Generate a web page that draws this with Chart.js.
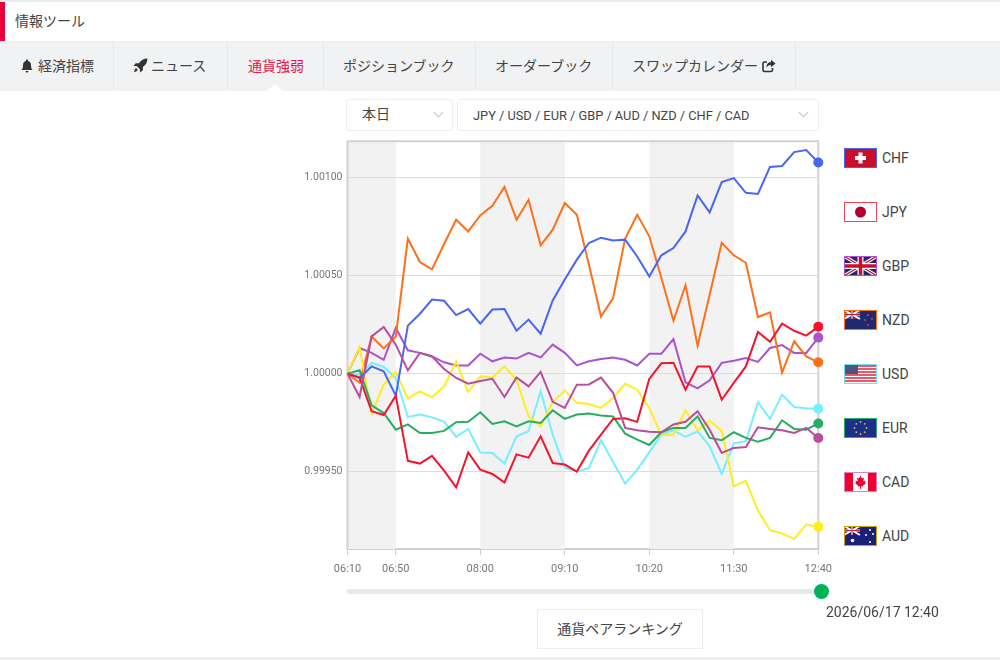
<!DOCTYPE html>
<html lang="ja">
<head>
<meta charset="utf-8">
<title>通貨強弱</title>
<script src="https://cdn.jsdelivr.net/npm/chart.js@4/dist/chart.umd.min.js"></script>
<style>
html, body { margin: 0; padding: 0; background: #fff; }
body { width: 1000px; height: 660px; overflow: hidden; position: relative;
  font-family: Roboto, "Noto Sans CJK JP", sans-serif; color: #444; font-size: 14px; }
.abs { position: absolute; white-space: nowrap; }
#topline { left: 0; top: 0; width: 1000px; height: 2px; background: #e9edf0; }
#redbar { left: 0; top: 2px; width: 5px; height: 39px; background: #e8003a; }
#title { left: 15px; top: 12px; line-height: 18px; }
#nav { left: 0; top: 41px; width: 1000px; height: 50px; background: #f1f2f3; border-top: 1px solid #ececec; box-sizing: border-box; }
.sep { top: 41px; width: 1px; height: 49px; background: #e7e8e9; }
.tab { top: 57px; line-height: 18px; }
.tab.on { color: #e8174b; }
#notch { left: 267px; top: 84px; width: 0; height: 0; border-left: 8px solid transparent; border-right: 8px solid transparent; border-bottom: 7px solid #fff; }
.sel { top: 99px; height: 32px; box-sizing: border-box; border: 1px solid #eee; border-radius: 3px; background: #fff; line-height: 30px; }
.chev { width: 6px; height: 6px; border-right: 1px solid #c4c4c4; border-bottom: 1px solid #c4c4c4; transform: rotate(45deg); top: 109px; }
#chart { position: absolute; left: 290px; top: 130px; }
.flag { left: 844px; width: 33px; height: 20px; display: block; }
.cur { left: 882px; line-height: 18px; }
#track { left: 347px; top: 589px; width: 474px; height: 5px; background: #e4ebf0; border-radius: 2px; }
#knob { left: 814px; top: 584px; width: 15px; height: 15px; border-radius: 50%; background: #00b15a; }
#stamp { left: 826px; top: 603px; line-height: 18px; }
#rank { left: 537px; top: 609px; width: 166px; height: 40px; box-sizing: border-box; border: 1px solid #eee; text-align: center; line-height: 38px; }
#foot { left: 0; top: 657px; width: 1000px; height: 3px; background: #f0f0f0; }
</style>
</head>
<body>
<div class="abs" id="topline"></div>
<div class="abs" id="redbar"></div>
<div class="abs" id="title">情報ツール</div>
<div class="abs" id="nav"></div>
<div class="abs sep" style="left:113px"></div>
<div class="abs sep" style="left:227px"></div>
<div class="abs sep" style="left:323px"></div>
<div class="abs sep" style="left:475px"></div>
<div class="abs sep" style="left:612px"></div>
<div class="abs sep" style="left:795px"></div>
<svg class="abs" style="left:20px;top:59px" width="14" height="14" viewBox="0 0 14 14"><path fill="#333" d="M7 0.5c.6 0 1 .4 1 1v.4c2 .4 3 2 3 4 0 3 .6 3.900 1.600 5H1.400C2.400 9.800 3 8.900 3 5.900c0-2 1-3.600 3-4v-.4c0-.6.4-1 1-1zM5.500 12h3c0 .9-.7 1.500-1.500 1.500S5.500 12.900 5.500 12z"/></svg>
<div class="abs tab" style="left:38px">経済指標</div>
<svg class="abs" style="left:133px;top:58px" width="15" height="15" viewBox="0 0 14 14"><path fill="#333" d="M13.500.5C10 .6 7.500 2 5.500 4.800H2.500L.5 7.500h3L6.500 10.500v3l2.700-2V8.500C12 6.500 13.400 4 13.500.5zM3 9.500C1.800 10 1.200 11.300 1 13c1.700-.2 3-.8 3.500-2z"/></svg>
<div class="abs tab" style="left:151px">ニュース</div>
<div class="abs tab on" style="left:248px">通貨強弱</div>
<div class="abs tab" style="left:343px">ポジションブック</div>
<div class="abs tab" style="left:495px">オーダーブック</div>
<div class="abs tab" style="left:632px">スワップカレンダー</div>
<svg class="abs" style="left:762px;top:59px" width="14" height="14" viewBox="0 0 14 14"><path fill="none" stroke="#333" stroke-width="1.600" d="M5 3H2.500C1.600 3 1 3.600 1 4.500v6.500c0 .9.6 1.500 1.500 1.500H9c.9 0 1.500-.6 1.500-1.500V9"/><path fill="#333" d="M9 .8l4.500 3.700L9 8.200V6C6.500 6 5.200 7 4.500 9 4.300 5.500 6 3.200 9 3z"/></svg>
<div class="abs" id="notch"></div>

<div class="abs sel" style="left:346px;width:107px;padding-left:15px;line-height:28px">本日</div>
<div class="abs chev" style="left:435px"></div>
<div class="abs sel" style="left:457px;width:362px;padding-left:15px;font-size:12.8px;line-height:31px">JPY / USD / EUR / GBP / AUD / NZD / CHF / CAD</div>
<div class="abs chev" style="left:800px"></div>

<canvas id="chart" width="550" height="460"></canvas>

<svg class="abs flag" style="top:148px" viewBox="0 0 33 20"><rect width="33" height="20" fill="#c8102e"/><path fill="#fff" d="M14.500 4.500h4v3.500h3.500v4h-3.500v3.500h-4v-3.500H11v-4h3.500z"/><rect x=".5" y=".5" width="32" height="19" fill="none" stroke="#4a66f0"/></svg>
<div class="abs cur" style="top:149px">CHF</div>
<svg class="abs flag" style="top:202px" viewBox="0 0 33 20"><rect width="33" height="20" fill="#fff"/><circle cx="16.500" cy="10" r="5.500" fill="#b3002d"/><rect x=".5" y=".5" width="32" height="19" fill="none" stroke="#f5445a"/></svg>
<div class="abs cur" style="top:203px">JPY</div>
<svg class="abs flag" style="top:256px" viewBox="0 0 33 20"><rect width="33" height="20" fill="#20286e"/><path stroke="#fff" stroke-width="3.500" d="M0 0L33 20M33 0L0 20"/><path stroke="#c8102e" stroke-width="1.200" d="M0 0L33 20M33 0L0 20"/><path stroke="#fff" stroke-width="6" d="M16.500 0V20M0 10H33"/><path stroke="#c8102e" stroke-width="3.500" d="M16.500 0V20M0 10H33"/><rect x=".5" y=".5" width="32" height="19" fill="none" stroke="#ab52cf"/></svg>
<div class="abs cur" style="top:257px">GBP</div>
<svg class="abs flag" style="top:310px" viewBox="0 0 33 20"><rect width="33" height="20" fill="#1f2a6e"/><rect width="16" height="9" fill="#3a4585"/><path stroke="#fff" stroke-width="1.800" d="M0 0L16 9M16 0L0 9M8 0V9M0 4.500H16"/><path stroke="#c8102e" stroke-width="1" d="M8 0V9M0 4.500H16"/><circle cx="24" cy="5" r="1" fill="#c8415a"/><circle cx="28" cy="9" r="1" fill="#c8415a"/><circle cx="21" cy="10" r="1" fill="#c8415a"/><circle cx="24" cy="15" r="1" fill="#c8415a"/><rect x=".5" y=".5" width="32" height="19" fill="none" stroke="#ff6f1a"/></svg>
<div class="abs cur" style="top:311px">NZD</div>
<svg class="abs flag" style="top:364px" viewBox="0 0 33 20"><rect width="33" height="20" fill="#fff"/><path stroke="#d7263d" stroke-width="1.500" d="M0 2H33M0 5H33M0 8H33M0 11H33M0 14H33M0 17H33"/><rect width="14" height="10" fill="#4b5580"/><rect x=".5" y=".5" width="32" height="19" fill="none" stroke="#75dff5"/></svg>
<div class="abs cur" style="top:365px">USD</div>
<svg class="abs flag" style="top:418px" viewBox="0 0 33 20"><rect width="33" height="20" fill="#1b2f8c"/><g fill="#e2b93b"><circle cx="16.500" cy="4" r=".9"/><circle cx="16.500" cy="16" r=".9"/><circle cx="10.500" cy="10" r=".9"/><circle cx="22.500" cy="10" r=".9"/><circle cx="12.300" cy="5.800" r=".9"/><circle cx="20.700" cy="5.800" r=".9"/><circle cx="12.300" cy="14.200" r=".9"/><circle cx="20.700" cy="14.200" r=".9"/></g><rect x=".5" y=".5" width="32" height="19" fill="none" stroke="#27ae60"/></svg>
<div class="abs cur" style="top:419px">EUR</div>
<svg class="abs flag" style="top:472px" viewBox="0 0 33 20"><rect width="33" height="20" fill="#fff"/><rect width="9" height="20" fill="#f0002f"/><rect x="24" width="9" height="20" fill="#f0002f"/><path fill="#f0002f" d="M16.500 3.500l1.500 3 2-.8-.7 3.500 2.200-.8-.5 2.100 1 .8-3 2.200.3 1-2.300-.3v2.500h-1v-2.500l-2.300.3.300-1-3-2.200 1-.8-.5-2.100 2.200.8-.7-3.500 2 .8z"/><rect x=".5" y=".5" width="32" height="19" fill="none" stroke="#e57fc2"/></svg>
<div class="abs cur" style="top:473px">CAD</div>
<svg class="abs flag" style="top:526px" viewBox="0 0 33 20"><rect width="33" height="20" fill="#1a1f7a"/><path stroke="#fff" stroke-width="1.800" d="M0 0L16 9M16 0L0 9M8 0V9M0 4.500H16"/><path stroke="#e0203c" stroke-width="1" d="M8 0V9M0 4.500H16"/><g fill="#fff"><circle cx="8.500" cy="14.500" r="1.800"/><circle cx="26" cy="4" r="1"/><circle cx="29" cy="8" r="1"/><circle cx="22" cy="9" r="1"/><circle cx="26" cy="16" r="1"/></g><rect x=".5" y=".5" width="32" height="19" fill="none" stroke="#c9a400"/></svg>
<div class="abs cur" style="top:527px">AUD</div>

<div class="abs" id="track"></div>
<div class="abs" id="knob"></div>
<div class="abs" id="stamp">2026/06/17 12:40</div>
<div class="abs" id="rank">通貨ペアランキング</div>
<div class="abs" id="foot"></div>

<script>
var times = ["06:10","06:20","06:30","06:40","06:50","07:00","07:10","07:20","07:30","07:40",
    "07:50","08:00","08:10","08:20","08:30","08:40","08:50","09:00","09:10","09:20",
    "09:30","09:40","09:50","10:00","10:10","10:20","10:30","10:40","10:50","11:00",
    "11:10","11:20","11:30","11:40","11:50","12:00","12:10","12:20","12:30","12:40"];

var chf = [1.000000,0.999978,1.000037,1.000012,0.999888,1.000245,1.000306,1.000378,1.000372,1.000299,
    1.000330,1.000255,1.000327,1.000330,1.000219,1.000276,1.000204,1.000374,1.000480,1.000582,
    1.000667,1.000694,1.000680,1.000684,1.000598,1.000496,1.000604,1.000641,1.000726,1.000910,
    1.000823,1.000978,1.000998,1.000923,1.000917,1.001055,1.001060,1.001131,1.001141,1.001078];
var jpy = [1.000000,0.999980,0.999808,0.999789,0.999888,0.999555,0.999541,0.999580,0.999505,0.999420,
    0.999598,0.999510,0.999488,0.999445,0.999588,0.999571,0.999680,0.999544,0.999536,0.999500,
    0.999607,0.999689,0.999769,0.999772,0.999754,0.999973,1.000053,1.000056,0.999918,1.000036,
    1.000036,0.999867,0.999953,1.000037,1.000213,1.000163,1.000255,1.000219,1.000194,1.000240];
var gbp = [1.000000,1.000131,1.000106,1.000071,1.000233,1.000119,1.000106,1.000088,1.000058,1.000042,
    1.000042,1.000102,1.000063,1.000082,1.000077,1.000106,1.000083,1.000148,1.000106,1.000042,
    1.000063,1.000075,1.000082,1.000071,1.000042,1.000102,1.000102,1.000176,0.999956,0.999925,
    0.999966,1.000055,1.000066,1.000080,1.000060,1.000131,1.000146,1.000106,1.000106,1.000184];
var nzd = [1.000000,0.999954,1.000190,1.000129,1.000190,1.000689,1.000570,1.000532,1.000662,1.000786,
    1.000726,1.000808,1.000857,1.000953,1.000786,1.000886,1.000655,1.000735,1.000871,1.000811,
    1.000556,1.000292,1.000386,1.000689,1.000811,1.000701,1.000488,1.000270,1.000451,1.000143,
    1.000403,1.000668,1.000604,1.000566,1.000289,1.000313,1.000005,1.000165,1.000088,1.000058];
var usd = [1.000000,0.999995,1.000055,1.000034,0.999978,0.999779,0.999791,0.999777,0.999755,0.999677,
    0.999718,0.999598,0.999595,0.999541,0.999680,0.999706,0.999910,0.999689,0.999520,0.999500,
    0.999519,0.999660,0.999549,0.999439,0.999510,0.999598,0.999689,0.999711,0.999677,0.999706,
    0.999629,0.999488,0.999644,0.999655,0.999854,0.999769,0.999893,0.999830,0.999823,0.999821];
var eur = [1.000000,1.000017,0.999838,0.999799,0.999714,0.999741,0.999697,0.999697,0.999708,0.999752,
    0.999754,0.999803,0.999743,0.999757,0.999731,0.999757,0.999748,0.999813,0.999769,0.999791,
    0.999797,0.999786,0.999781,0.999694,0.999663,0.999636,0.999701,0.999723,0.999723,0.999782,
    0.999672,0.999660,0.999701,0.999672,0.999653,0.999672,0.999762,0.999718,0.999714,0.999746];
var cad = [1.000000,0.999881,1.000190,1.000238,1.000148,1.000017,1.000106,1.000088,1.000024,0.999978,
    0.999949,0.999963,0.999974,0.999881,0.999981,0.999935,1.000009,0.999856,0.999825,0.999944,
    0.999945,0.999980,0.999902,0.999723,0.999711,0.999703,0.999701,0.999741,0.999754,0.999808,
    0.999714,0.999595,0.999621,0.999626,0.999726,0.999718,0.999711,0.999697,0.999723,0.999672];
var aud = [1.000000,1.000136,0.999796,0.999944,1.000009,0.999874,0.999910,0.999879,0.999935,1.000061,
    0.999907,0.999986,0.999981,1.000037,0.999969,0.999782,0.999731,0.999856,0.999913,0.999851,
    0.999845,0.999825,0.999876,0.999949,0.999918,0.999825,0.999684,0.999689,0.999813,0.999711,
    0.999760,0.999708,0.999425,0.999453,0.999301,0.999201,0.999185,0.999157,0.999230,0.999218];

var tickTimes = ["06:10","06:50","08:00","09:10","10:20","11:30","12:40"];
var yTicks = [0.9995, 1.0000, 1.0005, 1.0010];
var shaded = [["06:10","06:50"], ["08:00","09:10"], ["10:20","11:30"]];

function makeSeries(label, values, color) {
    return {
        label: label,
        data: values,
        borderColor: color,
        backgroundColor: color,
        borderWidth: 2,
        tension: 0,
        fill: false,
        clip: false,
        pointBorderWidth: 0,
        pointRadius: function (c) { return c.dataIndex === times.length - 1 ? 5 : 0; }
    };
}

// grey time bands behind the lines, plus grid and frame
var bandsPlugin = {
    id: "bands",
    beforeDatasetsDraw: function (chart) {
        var c = chart.ctx, a = chart.chartArea, x = chart.scales.x;
        c.save();
        c.fillStyle = "#f2f2f2";
        shaded.forEach(function (b) {
            var x0 = x.getPixelForValue(times.indexOf(b[0]));
            var x1 = x.getPixelForValue(times.indexOf(b[1]));
            c.fillRect(x0, a.top, x1 - x0, a.bottom - a.top);
        });
        // redraw the horizontal grid lines over the bands
        c.strokeStyle = "#dcdcdc";
        c.lineWidth = 1;
        yTicks.forEach(function (v) {
            var y = Math.floor(chart.scales.y.getPixelForValue(v)) + 0.5;
            c.beginPath();
            c.moveTo(a.left, y);
            c.lineTo(a.right, y);
            c.stroke();
        });
        c.strokeStyle = "#d2d2d2";
        c.lineWidth = 2;
        c.beginPath();
        c.moveTo(a.left, a.bottom);
        c.lineTo(a.left, a.top);
        c.lineTo(a.right, a.top);
        c.lineTo(a.right, a.bottom);
        c.stroke();
        c.restore();
    }
};

new Chart(document.getElementById("chart").getContext("2d"), {
    type: "line",
    data: {
        labels: times,
        datasets: [
            makeSeries("CAD", cad, "#b84d9b"),
            makeSeries("JPY", jpy, "#f5142d"),
            makeSeries("CHF", chf, "#4a66f0"),
            makeSeries("EUR", eur, "#27ae60"),
            makeSeries("AUD", aud, "#ffed1f"),
            makeSeries("NZD", nzd, "#ff6f1a"),
            makeSeries("GBP", gbp, "#ab52cf"),
            makeSeries("USD", usd, "#75efff")
        ]
    },
    options: {
        responsive: false,
        animation: false,
        layout: { padding: { top: 11, right: 21, left: 0, bottom: 0 } },
        plugins: { legend: { display: false }, tooltip: { enabled: false } },
        scales: {
            x: {
                type: "category",
                offset: false,
                afterBuildTicks: function (s) {
                    s.ticks = s.ticks.filter(function (t) { return tickTimes.indexOf(times[t.value]) >= 0; });
                },
                afterFit: function (s) { s.height = 41; },
                grid: { drawOnChartArea: false, color: "#cfcfcf", tickLength: 6 },
                border: { color: "#cfcfcf", width: 2 },
                ticks: { autoSkip: false, maxRotation: 0, padding: 8, color: "#777",
                    font: { family: "Roboto", size: 11 } }
            },
            y: {
                min: 0.999105,
                max: 1.001186,
                afterBuildTicks: function (s) {
                    s.ticks = yTicks.map(function (v) { return { value: v }; });
                },
                afterFit: function (s) { s.width = 57.5; },
                grid: { display: false, drawTicks: false },
                border: { display: false },
                ticks: { padding: 5, color: "#777", font: { family: "Roboto", size: 10.5 },
                    callback: function (v) { return Number(v).toFixed(5); } }
            }
        }
    },
    plugins: [bandsPlugin]
});
</script>
</body>
</html>
